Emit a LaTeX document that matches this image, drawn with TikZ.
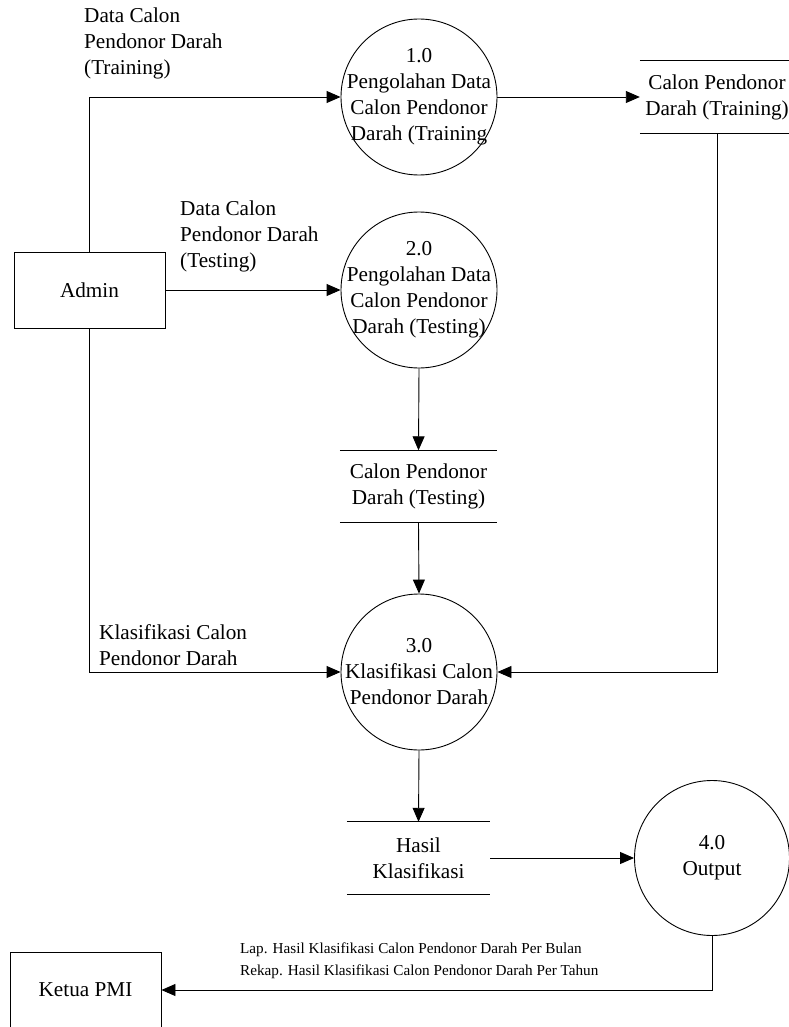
\documentclass[tikz,border=0pt]{standalone}
\usepackage{fontspec}
\setmainfont{Liberation Serif}
\usetikzlibrary{arrows.meta}

\begin{document}
\begin{tikzpicture}[
  x=1pt, y=-1pt,
  line/.style={draw=black, line width=0.9pt},
  flow/.style={line, -{Triangle[length=14pt,width=12pt]}},
  entity/.style={line, rectangle, minimum width=151pt, minimum height=76pt, inner sep=0pt,
                 font=\fontsize{21.2}{26}\selectfont},
  proc/.style={line, circle, minimum size=#1, inner sep=0pt},
  proc/.default=156pt,
  txt/.style={inner sep=0pt, align=center, font=\fontsize{21.2}{26}\selectfont},
  lbl/.style={inner sep=0pt, align=left, anchor=west, font=\fontsize{21.2}{26}\selectfont},
  small/.style={inner sep=0pt, align=left, anchor=west, font=\fontsize{15.2}{22}\selectfont},
  store/.style={inner sep=0pt, minimum height=72pt, align=center,
                font=\fontsize{21.2}{26}\selectfont},
]
\useasboundingbox (0,0) rectangle (788,1027);

% external entities
\node[entity] (admin) at (89.5,290) {Admin};
\node[entity] (ketua) at (85.5,990) {Ketua PMI};

% processes
\node[proc] (p1) at (419,97) {};
\node[txt] (p1t) at (p1) {1.0\\Pengolahan Data\\Calon Pendonor\\Darah (Training};
\node[proc] (p2) at (419,290) {};
\node[txt] (p2t) at (p2) {2.0\\Pengolahan Data\\Calon Pendonor\\Darah (Testing)};
\node[proc] (p3) at (419,672) {};
\node[txt] (p3t) at (p3) {3.0\\Klasifikasi Calon\\Pendonor Darah};
\node[proc=155pt] (p4) at (712,858) {};
\node[txt] (p4t) at (p4) {4.0\\Output};

% data stores
\node[store, minimum width=154pt] (s1) at (717,97) {Calon Pendonor\\Darah (Training)};
\node[store, minimum width=157pt] (s2) at (418.5,486.5) {Calon Pendonor\\Darah (Testing)};
\node[store, minimum width=143pt] (s3) at (418.5,858) {Hasil\\Klasifikasi};
\foreach \s in {s1,s2,s3}{
  \draw[line] (\s.north west) -- (\s.north east);
  \draw[line] (\s.south west) -- (\s.south east);
}

% data flows
\draw[flow] (admin.north) |- (p1.west);
\draw[flow] (admin.east) -- (p2.west);
\draw[flow] (admin.south) |- (p3.west);
\draw[flow] (p1.east) -- (s1.west);
\draw[flow] (p2.south) -- (s2.north);
\draw[flow] (s2.south) -- (p3.north);
\draw[flow] (s1.south) |- (p3.east);
\draw[flow] (p3.south) -- (s3.north);
\draw[flow] (s3.east) -- (p4.west);
\draw[flow] (p4.south) |- (ketua.east);

% flow labels
\node[lbl] (l1) at (84,43) {Data Calon\\Pendonor Darah\\(Training)};
\node[lbl] (l2) at (180,236) {Data Calon\\Pendonor Darah\\(Testing)};
\node[lbl] (l3) at (99,645) {Klasifikasi Calon\\Pendonor Darah};
\node[small] (l4) at (240,961) {Lap. Hasil Klasifikasi Calon Pendonor Darah Per Bulan\\Rekap. Hasil Klasifikasi Calon Pendonor Darah Per Tahun};
\end{tikzpicture}
\end{document}
